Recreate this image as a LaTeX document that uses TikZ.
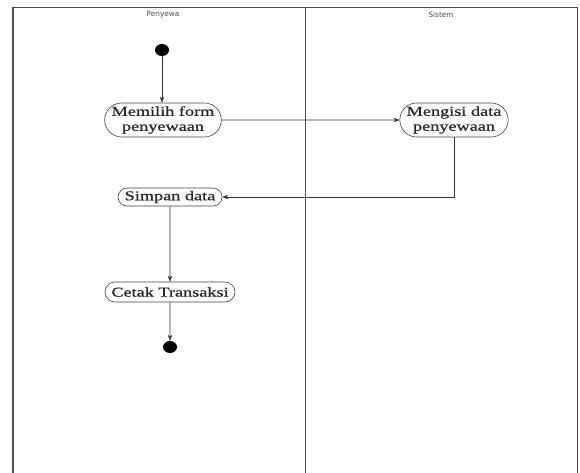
\documentclass[tikz,border=0pt]{standalone}
\usepackage{fontspec}
\setmainfont{Liberation Serif}
\newfontfamily\actfont[FakeStretch=1.35,FakeBold=0.6]{Liberation Serif}
\newfontfamily\lanefont{DejaVu Sans}
\usetikzlibrary{shapes.misc,shapes.geometric,arrows.meta}
\begin{document}
\begin{tikzpicture}[x=1pt,y=-1pt,
  act/.style={draw=black!75, line width=0.6pt, rounded rectangle, inner sep=0pt,
     font=\actfont\fontsize{13.5}{15}\selectfont, align=center, text=black!85},
  lane/.style={font=\lanefont\fontsize{7.3}{9}\selectfont, text=black!70},
  frame/.style={draw=black!70, line width=0.8pt},
  flow/.style={draw=black!80, line width=0.6pt, -{Stealth[length=6pt,width=4.5pt]}},
  dot/.style={fill=black, ellipse, inner sep=0pt, minimum width=14pt, minimum height=12pt}]
\useasboundingbox (0,0) rectangle (580,472);
\fill[white] (0,0) rectangle (580,472);
% lanes
\draw[frame] (12,480) -- (12,7) -- (577,7) -- (577,480);
\draw[frame] (12.9,480) -- (12.9,7.5);
\draw[frame] (305,7) -- (305,480);
\node[lane] (l1) at (163,15) {Penyewa};
\node[lane] (l2) at (441,15) {Sistem};
% nodes
\node[dot] (start) at (162,50) {};
\node[act, minimum width=108pt, minimum height=34pt] (a1) at (163,120) {Memilih form\\penyewaan};
\node[act, minimum width=108pt, minimum height=34pt] (a2) at (454,120) {Mengisi data\\penyewaan};
\node[act, minimum width=104pt, minimum height=18pt] (a3) at (170,197) {Simpan data};
\node[act, minimum width=130pt, minimum height=20pt] (a4) at (170,292) {Cetak Transaksi};
\node[dot] (stop) at (170,347) {};
% flows
\draw[flow] (start) -- (start |- a1.north);
\draw[flow] (a1) -- (a2);
\draw[flow] (a2.south) |- (a3.east);
\draw[flow] (a3) -- (a4);
\draw[flow] (a4) -- (stop);
\end{tikzpicture}
\end{document}
